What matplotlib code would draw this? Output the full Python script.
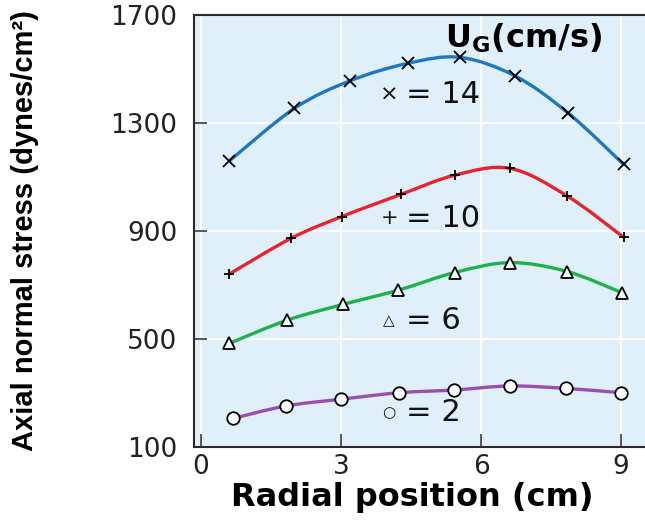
import numpy as np
import matplotlib
matplotlib.use("Agg")
import matplotlib.pyplot as plt
from matplotlib.path import Path
from matplotlib.patches import PathPatch

# radial position (cm) and axial normal stress (dynes/cm2) per gas velocity
x_14 = [0.61, 2.00, 3.19, 4.43, 5.55, 6.73, 7.87, 9.05]
y_14 = [1160, 1354, 1456, 1521, 1543, 1474, 1336, 1147]

x_10 = [0.61, 1.93, 3.01, 4.29, 5.44, 6.62, 7.84, 9.05]
y_10 = [741, 873, 953, 1036, 1107, 1132, 1030, 877]

x_6 = [0.61, 1.85, 3.04, 4.23, 5.43, 6.62, 7.84, 9.01]
y_6 = [484, 570, 628, 681, 746, 783, 750, 672]

x_2 = [0.69, 1.82, 3.00, 4.25, 5.42, 6.61, 7.82, 8.99]
y_2 = [206, 252, 277, 301, 311, 326, 317, 301]

symbols = ["\u00d7", "+", "\u25b3", "\u25cb"]
symbol_size = [16, 15, 11, 11]
values = ["= 14", "= 10", "= 6", "= 2"]
label_y = [1404, 948, 567, 226]

BG = "#dff0fb"
AX_COLOR = "#2a2a2a"


def smooth_path(xs, ys):
    # Catmull-Rom curve through the points, as cubic bezier pieces
    pts = np.column_stack([xs, ys]).astype(float)
    p = np.vstack([pts[0], pts, pts[-1]])
    verts = [pts[0]]
    codes = [Path.MOVETO]
    for i in range(1, len(p) - 2):
        c1 = p[i] + (p[i + 1] - p[i - 1]) / 6.0
        c2 = p[i + 1] - (p[i + 2] - p[i]) / 6.0
        verts += [c1, c2, p[i + 1]]
        codes += [Path.CURVE4] * 3
    return Path(verts, codes)


fig = plt.figure(figsize=(6.45, 5.22), dpi=100)
ax = fig.add_axes([194 / 645, 75 / 522, 1 - 194 / 645, 432 / 522])
ax.set_facecolor(BG)

ax.set_xlim(-0.15, 9.51)
ax.set_ylim(100, 1700)
ax.set_xticks([0, 3, 6, 9])
ax.set_yticks([100, 500, 900, 1300, 1700])
ax.grid(True, color="white", linewidth=1.5)
ax.set_axisbelow(True)

series = [
    (x_14, y_14, "#1f78bf", "x", 9, "black"),
    (x_10, y_10, "#e8232b", "+", 7, "black"),
    (x_6, y_6, "#1fb14c", "^", 8, "#eef8fd"),
    (x_2, y_2, "#9a4fae", "o", 9, "white"),
]
for xs, ys, col, mk, ms, fc in series:
    ax.add_patch(PathPatch(smooth_path(xs, ys), facecolor="none",
                           edgecolor=col, linewidth=2.4, zorder=3))
    ax.plot(xs, ys, linestyle="none", marker=mk, markersize=ms,
            markerfacecolor=fc, markeredgecolor="black",
            markeredgewidth=1.3, zorder=4)

for sym, sz, val, yy in zip(symbols, symbol_size, values, label_y):
    ax.text(4.03, yy, sym, fontsize=sz, family="DejaVu Sans",
            color="#111111", ha="center", va="center", zorder=5)
    ax.text(4.40, yy, val, fontsize=22, family="DejaVu Sans",
            color="#111111", ha="left", va="center", zorder=5)

ax.text(5.23, 1615, r"U$_\mathbf{G}$(cm/s)", fontsize=23, fontweight="bold",
        family="DejaVu Sans", ha="left", va="center", zorder=5)

for s in ["left", "bottom", "top"]:
    ax.spines[s].set_color(AX_COLOR)
    ax.spines[s].set_linewidth(1.5)
ax.spines["right"].set_visible(False)

ax.tick_params(direction="in", length=9.5, width=1.1, color=AX_COLOR,
               labelsize=19, labelcolor="#222222")
ax.tick_params(axis="y", pad=12)
ax.tick_params(axis="x", pad=5)
for lab in ax.get_xticklabels() + ax.get_yticklabels():
    lab.set_family("DejaVu Sans")

ax.set_xlabel("Radial position (cm)", fontsize=23, fontweight="bold",
              family="DejaVu Sans", va="center")
ax.xaxis.set_label_coords(0.483, -0.118)
ax.set_ylabel("Axial normal stress (dynes/cm\u00b2)", fontsize=21,
              fontweight="bold", family="Liberation Sans", va="center")
ax.yaxis.set_label_coords(-0.375, 0.5)

fig.savefig("out.png", dpi=100)
